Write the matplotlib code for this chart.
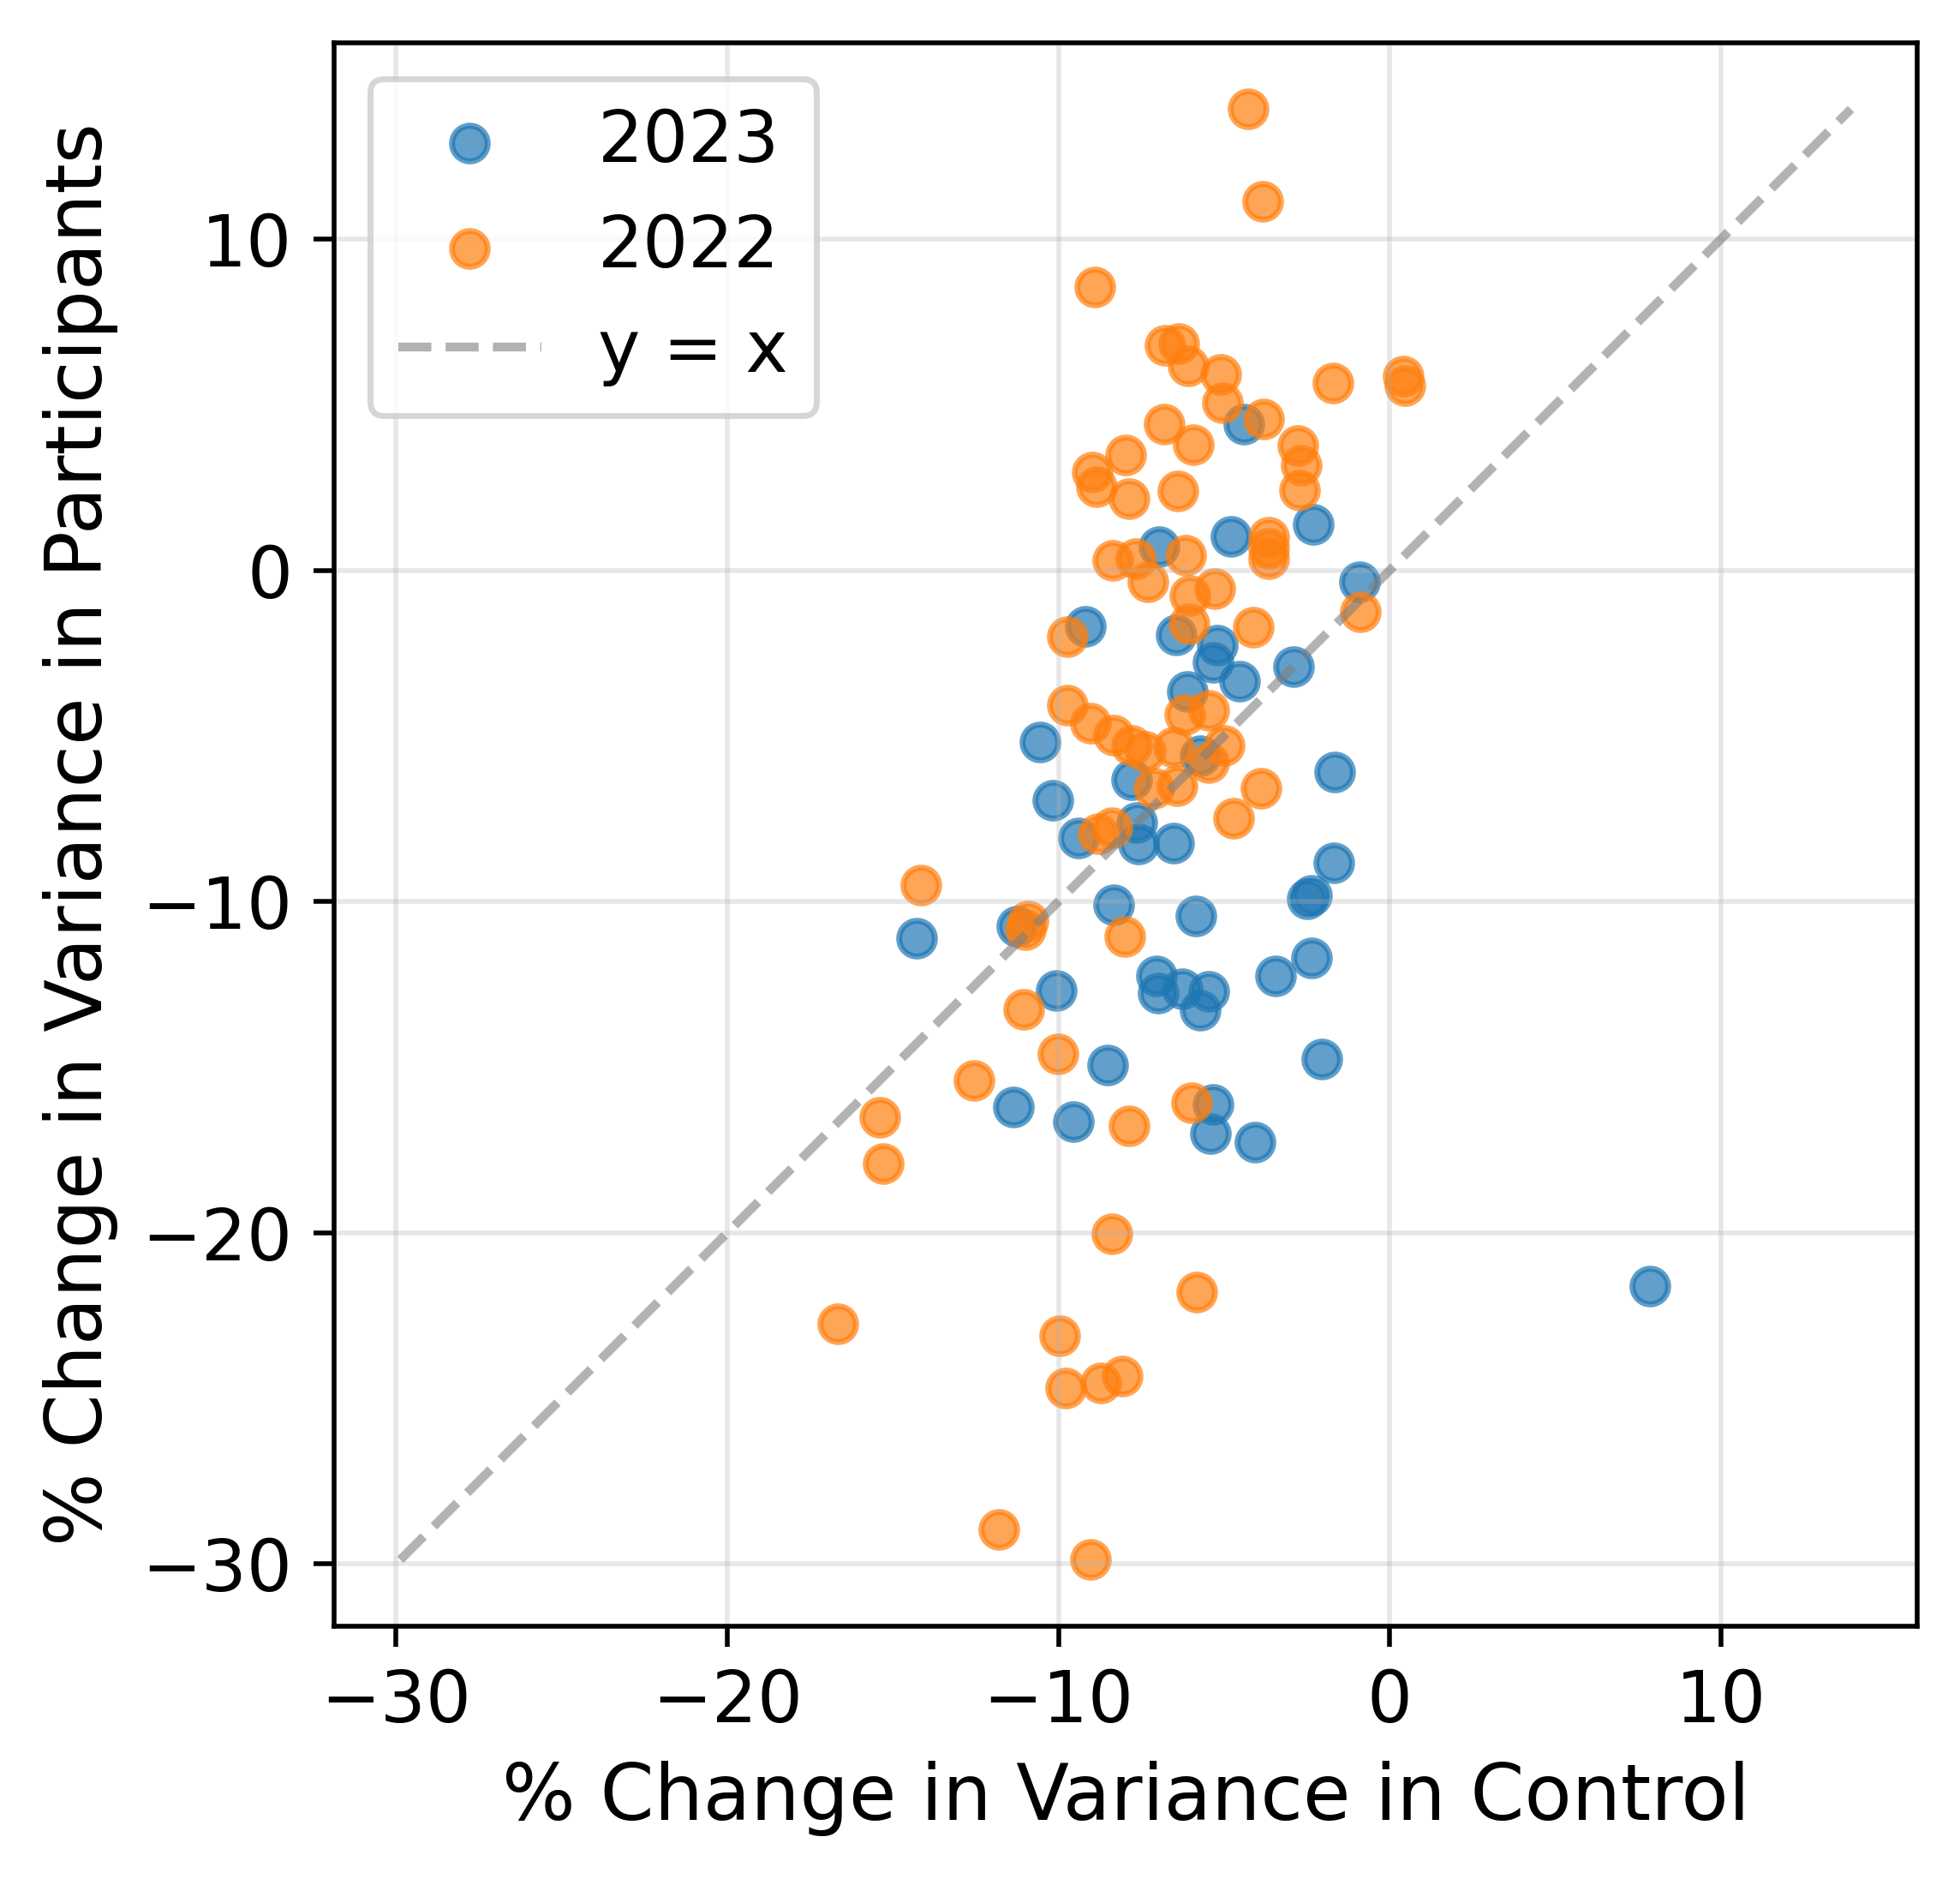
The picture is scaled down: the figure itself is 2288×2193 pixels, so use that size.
import matplotlib
matplotlib.use("Agg")
import matplotlib.pyplot as plt
import numpy as np

# 2023 series (blue)
x_2023 = [-4.40, -2.31, -4.80, -6.97, -0.92, -9.18, -6.45, -5.19, -5.32, -2.89,
          -4.54, -6.12, -10.56, -10.17, -9.38, -7.63, -7.59, -6.51, -7.80, -5.73,
          -14.27, -11.25, -8.34, -5.84, -7.04, -6.98, -6.25, -5.45, -5.73, -10.07,
          -3.45, -2.37, -1.68, -2.35, -2.48, -2.05, -5.32, -5.41, -4.07, -8.52,
          -11.36, -9.55, -1.66, 7.85]
y_2023 = [4.43, 1.40, 1.03, 0.71, -0.33, -1.68, -1.94, -2.25, -2.77, -2.90,
          -3.35, -3.65, -5.18, -6.94, -8.07, -7.61, -8.26, -8.24, -6.32, -5.59,
          -11.11, -10.74, -10.09, -10.44, -12.25, -12.75, -12.62, -12.70, -13.29, -12.69,
          -12.23, -11.71, -8.84, -9.82, -9.92, -14.76, -16.13, -17.01, -17.25, -14.94,
          -16.21, -16.65, -6.09, -21.61]

# 2022 series (orange)
x_2022 = [-4.27, -3.84, -8.90, -6.79, -6.36, -6.09, -5.10, -5.04, -1.70, 0.40,
          0.46, -6.81, -3.81, -5.93, -7.98, -8.98, -8.86, -7.87, -6.40, -2.76,
          -2.66, -2.72, -3.64, -3.64, -3.64, -8.35, -7.66, -6.16, -7.30, -0.89,
          -6.04, -5.29, -9.72, -6.06, -4.12, -6.18, -5.45, -9.74, -9.04, -8.32,
          -7.80, -7.37, -6.51, -5.00, -5.47, -7.11, -6.42, -8.79, -8.38, -3.88,
          -4.70, -14.16, -10.92, -10.99, -8.00, -11.05, -10.02, -12.56, -5.99, -7.87,
          -15.39, -15.28, -8.39, -5.82, -16.67, -9.96, -9.79, -8.73, -8.08, -11.80,
          -9.04]
y_2022 = [13.93, 11.14, 8.55, 6.81, 6.86, 6.18, 5.92, 5.06, 5.66, 5.86,
          5.58, 4.42, 4.57, 3.79, 3.49, 2.98, 2.52, 2.17, 2.39, 3.77,
          3.17, 2.42, 1.01, 0.66, 0.36, 0.30, 0.36, 0.47, -0.33, -1.25,
          -0.76, -0.56, -2.01, -1.62, -1.71, -4.34, -4.21, -4.06, -4.60, -4.98,
          -5.29, -5.46, -5.33, -5.29, -5.80, -6.58, -6.49, -7.96, -7.77, -6.58,
          -7.49, -9.49, -10.59, -10.85, -11.06, -13.26, -14.60, -15.40, -16.08, -16.78,
          -16.51, -17.92, -20.02, -21.80, -22.75, -23.12, -24.69, -24.54, -24.33, -28.96,
          -29.87]

W, H, DPI = 2288, 2193, 500
fig = plt.figure(figsize=(W / DPI, H / DPI), dpi=DPI)
ax = fig.add_axes([390 / W, 1 - 1897.7 / H, 1848 / W, 1847.7 / H])

ax.scatter(x_2023, y_2023, s=36, linewidths=1.0, alpha=0.7, color="C0", label="2023")
ax.scatter(x_2022, y_2022, s=36, linewidths=1.0, alpha=0.7, color="C1", label="2022")

all_vals = x_2023 + y_2023 + x_2022 + y_2022
lo, hi = min(all_vals), max(all_vals)
ax.plot([lo, hi], [lo, hi], "--", color="gray", alpha=0.6, lw=1.5, label="y = x")
ax.set_xlim(lo - 2, hi + 2)
ax.set_ylim(lo - 2, hi + 2)

ax.set_xlabel("% Change in Variance in Control", fontsize=13)
ax.set_ylabel("% Change in Variance in Participants", fontsize=13)
ax.tick_params(labelsize=12)
ax.grid(alpha=0.3)
ax.legend(fontsize=12, loc="upper left")

fig.savefig("out.png", dpi=DPI)
